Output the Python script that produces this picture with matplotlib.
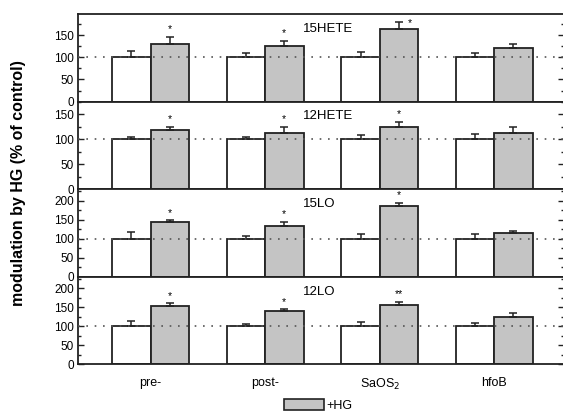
"""Modulation by HG (% of control) for four lipoxygenase products, per cell line."""

import matplotlib
matplotlib.use("Agg")
import matplotlib.pyplot as plt
import numpy as np
from matplotlib.patches import Patch
from matplotlib.ticker import MultipleLocator

cell_lines = ["pre-", "post-", "SaOS$_2$", "hfoB"]
panels = ["15HETE", "12HETE", "15LO", "12LO"]

control_mean = [[100, 100, 100, 100],
                [100, 100, 100, 100],
                [100, 100, 100, 100],
                [100, 100, 100, 100]]
control_err = [[14, 10, 11, 10],
               [5, 5, 8, 11],
               [18, 8, 13, 12],
               [15, 6, 12, 8]]
hg_mean = [[131, 125, 163, 121],
           [119, 113, 124, 113],
           [144, 133, 185, 114],
           [152, 140, 155, 125]]
hg_err = [[15, 12, 18, 10],
          [6, 12, 11, 12],
          [4, 12, 8, 7],
          [8, 4, 8, 9]]
stars = [["*", "*", "*", ""],
         ["*", "*", "*", ""],
         ["*", "*", "*", ""],
         ["*", "*", "**", ""]]
y_max = [198, 175, 230, 230]
y_label_max = [150, 150, 200, 200]

plt.rcParams["font.family"] = ["Liberation Sans", "DejaVu Sans"]
EDGE = "#222222"
GREY = "#c4c4c4"

fig = plt.figure(figsize=(5.63, 4.12), dpi=100)
gs = fig.add_gridspec(4, 1, left=0.1385, right=1.002, top=0.966,
                      bottom=0.1158, hspace=0)

x = np.arange(1, len(cell_lines) + 1)
w = 0.335
for i, name in enumerate(panels):
    ax = fig.add_subplot(gs[i])
    ax.bar(x - w / 2, control_mean[i], w, color="white", edgecolor=EDGE,
           linewidth=1.3, zorder=2)
    ax.bar(x + w / 2, hg_mean[i], w, color=GREY, edgecolor=EDGE,
           linewidth=1.3, zorder=2)
    ax.errorbar(x - w / 2, control_mean[i], yerr=[np.zeros(4), control_err[i]],
                fmt="none", ecolor=EDGE, elinewidth=1.1, capsize=2.8,
                capthick=1.1, zorder=3)
    ax.errorbar(x + w / 2, hg_mean[i], yerr=[np.zeros(4), hg_err[i]],
                fmt="none", ecolor=EDGE, elinewidth=1.1, capsize=2.8,
                capthick=1.1, zorder=3)
    ax.axhline(100, color="#555555", linestyle=(0, (1, 4)), linewidth=1.2,
               zorder=4)
    for j, s in enumerate(stars[i]):
        if not s:
            continue
        top = hg_mean[i][j] + hg_err[i][j]
        if i == 0 and j == 2:
            ax.annotate(s, (x[j] + w / 2, top), xytext=(8, -5),
                        textcoords="offset points", ha="center", va="bottom",
                        fontsize=7.5)
        else:
            ax.annotate(s, (x[j] + w / 2, top), xytext=(0, 2),
                        textcoords="offset points", ha="center", va="bottom",
                        fontsize=7.5)
    ax.text(0.463, 0.83, name, transform=ax.transAxes, ha="left",
            va="center", fontsize=9.5)

    ax.set_xlim(0.366, 4.61)
    ax.set_ylim(0, y_max[i])
    ax.set_yticks(np.arange(0, y_label_max[i] + 1, 50))
    ax.yaxis.set_minor_locator(MultipleLocator(25))
    ax.tick_params(axis="y", which="both", direction="in", right=True,
                   labelsize=8.5, width=1, color=EDGE, pad=3)
    ax.tick_params(axis="y", which="major", length=4)
    ax.tick_params(axis="y", which="minor", length=2.5)
    ax.set_xticks(x)
    ax.tick_params(axis="x", length=0, labelsize=9, pad=9)
    if i < 3:
        ax.set_xticklabels([])
    else:
        ax.set_xticklabels(cell_lines)
    for sp in ax.spines.values():
        sp.set_linewidth(1.3)
        sp.set_color(EDGE)

fig.text(0.032, 0.556, "modulation by HG (% of control)", rotation=90,
         ha="center", va="center", fontsize=11.5, fontweight="bold")

fig.legend(handles=[Patch(facecolor=GREY, edgecolor=EDGE, linewidth=1.2)],
           labels=["+HG"], loc="lower left", bbox_to_anchor=(0.504, 0.001),
           frameon=False, fontsize=9, handlelength=3.2, handleheight=1.0,
           handletextpad=0.2, borderpad=0, borderaxespad=0)

fig.savefig("out.png", dpi=100)
